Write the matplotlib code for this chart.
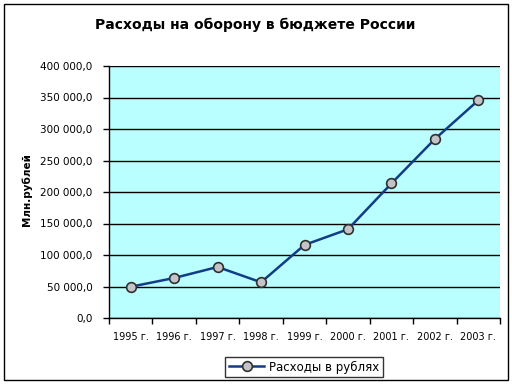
import matplotlib
matplotlib.use("Agg")
import matplotlib.pyplot as plt
from matplotlib.ticker import FuncFormatter, MultipleLocator, FixedLocator
from matplotlib.patches import Rectangle

categories = ["1995 г.", "1996 г.", "1997 г.", "1998 г.", "1999 г.",
              "2000 г.", "2001 г.", "2002 г.", "2003 г."]
values = [49600, 63500, 81000, 56700, 116000, 140800, 213500, 284000, 345500]
title = "Расходы на оборону в бюджете России"
ylabel = "Млн.рублей"
series_name = "Расходы в рублях"

plt.rcParams['font.family'] = ['DejaVu Sans']

fig = plt.figure(figsize=(5.12, 3.84), dpi=100)
fig.patch.set_facecolor("white")
ax = fig.add_axes([109/512, 1-318/384, (500-109)/512, (318-66)/384])
ax.set_facecolor("#BAFFFF")

x = list(range(len(categories)))
ax.plot(x, values, color="#123C88", lw=1.8, marker="o", markersize=7,
        markerfacecolor="#C4C4C8", markeredgecolor="#303030", markeredgewidth=1.2,
        label=series_name, zorder=3)

ax.set_xlim(-0.5, len(categories) - 0.5)
ax.set_ylim(0, 400000)
ax.yaxis.set_major_locator(MultipleLocator(50000))
def fmt(v, pos):
    s = f"{v:,.1f}".replace(",", " ").replace(".", ",")
    return s
ax.yaxis.set_major_formatter(FuncFormatter(fmt))
ax.grid(axis="y", color="black", lw=1.0)
ax.set_axisbelow(True)

ax.set_xticks(x)
ax.set_xticklabels(categories)
ax.xaxis.set_minor_locator(FixedLocator([i - 0.5 for i in range(len(categories) + 1)]))
ax.tick_params(axis="x", which="major", length=0, pad=10, labelsize=7)
ax.tick_params(axis="x", which="minor", length=4, width=1, direction="out")
ax.tick_params(axis="y", length=4, width=1, direction="out", labelsize=7.5, pad=8)

for s in ["top", "right"]:
    ax.spines[s].set_visible(False)
ax.spines["left"].set_linewidth(1)
ax.spines["bottom"].set_linewidth(1)

fig.text(255/512, 1-25/384, title, ha="center", va="center",
         fontsize=10, fontweight="bold")
fig.text(27/512, 1-190/384, ylabel, ha="center", va="center", rotation=90,
         fontsize=7.5, fontweight="bold")

leg = fig.legend(loc="center", bbox_to_anchor=(304/512, 1-367/384), frameon=True,
                 fancybox=False, edgecolor="black", fontsize=8.5,
                 borderpad=0.3, handlelength=3.0, handletextpad=0.4)
leg.get_frame().set_linewidth(1)

fig.patches.append(Rectangle((4/512, 4/384), 504/512, 376/384, transform=fig.transFigure,
                             fill=False, edgecolor="black", lw=1))

fig.savefig("out.png", dpi=100)
